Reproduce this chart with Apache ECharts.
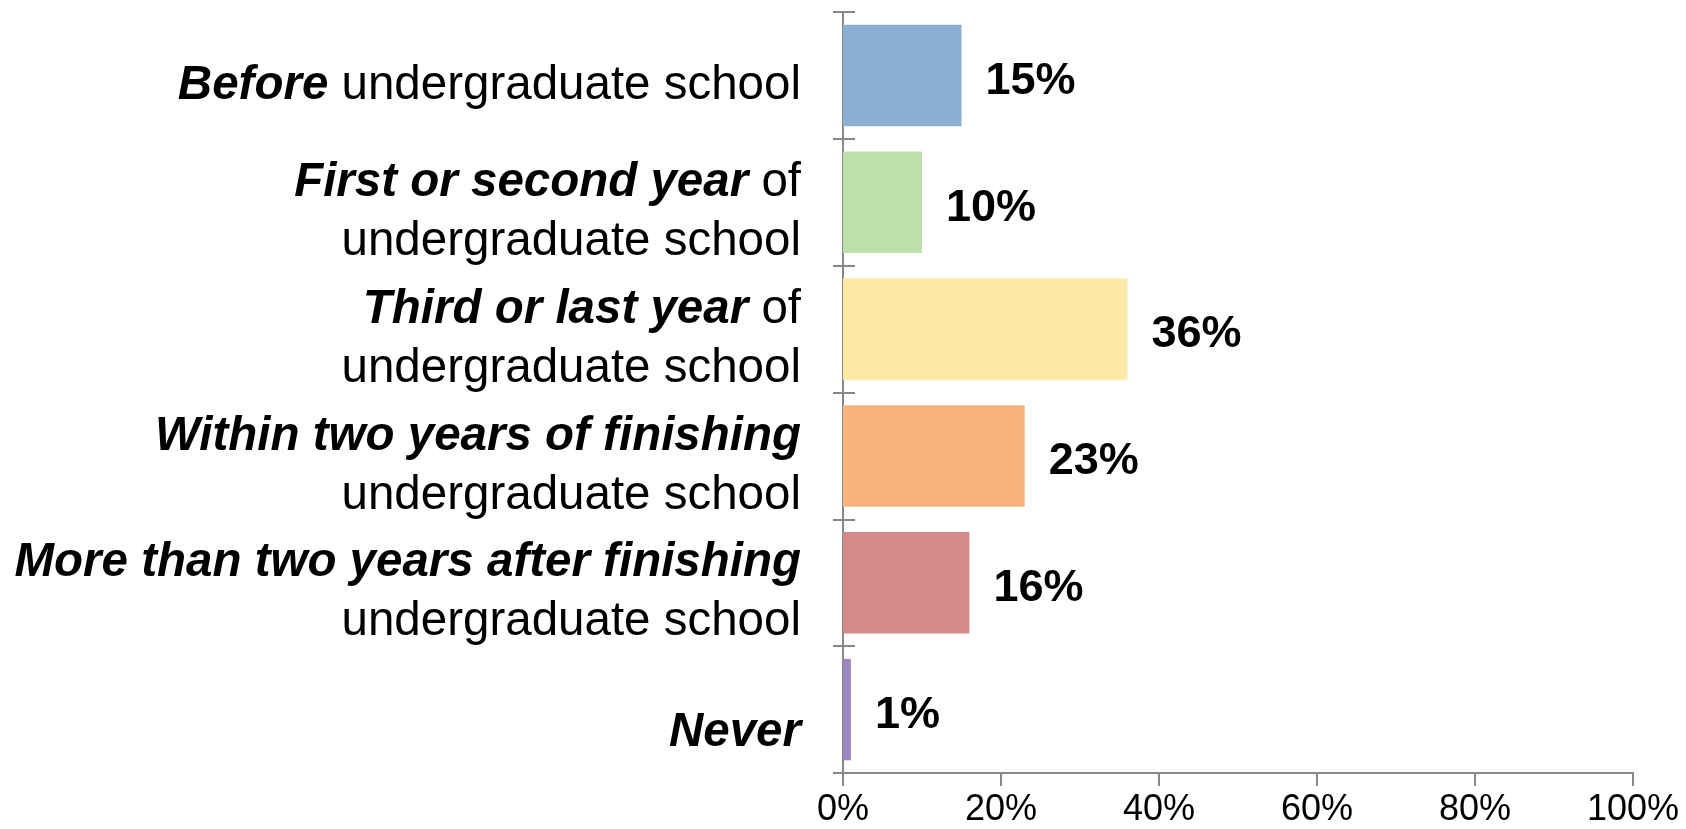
<!DOCTYPE html>
<html><head><meta charset="utf-8">
<script src="https://cdn.jsdelivr.net/npm/echarts@6/dist/echarts.min.js"></script>
<style>html,body{margin:0;padding:0;background:#fff}#c{width:1686px;height:829px}</style>
</head><body><div id="c"></div>
<script>
const catBold = ['Before', 'First or second year', 'Third or last year', 'Within two years of finishing', 'More than two years after finishing', 'Never'];
const catRest = [' undergraduate school', ' of\nundergraduate school', ' of\nundergraduate school', '\nundergraduate school', '\nundergraduate school', ''];
const values = [15, 10, 36, 23, 16, 1];
const colors = ['#8AAFD3', '#BDDFAC', '#FCE9A4', '#F8B47C', '#D48A88', '#9B86BF'];
const xTicks = [0, 20, 40, 60, 80, 100];

const categories = catBold.map((b, i) => b + catRest[i]);
const FONT = '"Liberation Sans", Arial, sans-serif';

const chart = echarts.init(document.getElementById('c'));
chart.setOption({
  animation: false,
  grid: { left: 843, right: 53, top: 12, bottom: 56, containLabel: false, outerBoundsMode: 'none' },
  xAxis: {
    type: 'value', min: xTicks[0], max: xTicks[xTicks.length - 1], interval: 20,
    axisLine: { show: true, lineStyle: { color: '#888', width: 2 } },
    axisTick: { show: true, length: 13, lineStyle: { color: '#888', width: 2 } },
    splitLine: { show: false },
    axisLabel: { formatter: v => v + '%', fontSize: 36, color: '#000', fontFamily: FONT, margin: 19 }
  },
  yAxis: [{
    type: 'category', inverse: true, data: categories,
    axisLine: { show: true, lineStyle: { color: '#888', width: 2 } },
    axisTick: { show: true, length: 10, lineStyle: { color: '#888', width: 2 } },
    axisLabel: {
      margin: 42, align: 'right', padding: [20, 0, 0, 0],
      formatter: (v, i) => {
        const b = catBold[i], r = catRest[i];
        if (!r) return '{bl|' + b + '}';
        if (r.startsWith('\n')) return '{b|' + b + '}\n{n|' + r.slice(1) + '}';
        const parts = r.split('\n');
        let s = '{b|' + b + '}{n|' + parts[0] + '}';
        if (parts.length > 1) s += '\n{n|' + parts[1] + '}';
        return s;
      },
      rich: {
        b: { fontSize: 47.5, fontWeight: 'bold', fontStyle: 'italic', color: '#000', fontFamily: FONT, lineHeight: 59 },
        bl: { fontSize: 47.5, fontWeight: 'bold', fontStyle: 'italic', color: '#000', fontFamily: FONT, lineHeight: 59, padding: [26, 0, 0, 0] },
        n: { fontSize: 47.5, color: '#000', fontFamily: FONT, lineHeight: 59 }
      }
    }
  }, {
    type: 'category', inverse: true, data: categories, position: 'left',
    axisLine: { show: false },
    axisTick: { show: true, inside: true, length: 12, lineStyle: { color: '#888', width: 2 } },
    axisLabel: { show: false }
  }],
  series: [{
    type: 'bar', yAxisIndex: 0, barWidth: '80%',
    data: values.map((v, i) => ({ value: v, itemStyle: { color: colors[i] } })),
    label: {
      show: true, position: 'right', distance: 24, offset: [0, 6], formatter: '{c}%',
      fontSize: 45, fontWeight: 'bold', color: '#000', fontFamily: FONT
    }
  }]
});
</script></body></html>
